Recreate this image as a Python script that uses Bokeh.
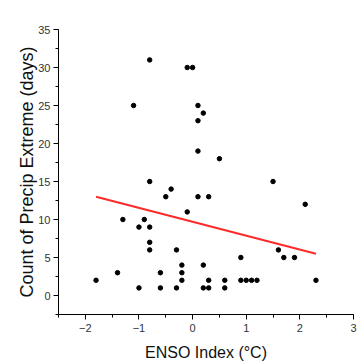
from bokeh.plotting import figure
from bokeh.models import Range1d, FixedTicker
from bokeh.embed import file_html
from bokeh.resources import INLINE

enso = [-1.8, -1.4, -1.3, -1.1, -1.0, -1.0, -0.9, -0.8, -0.8, -0.8, -0.8, -0.8,
        -0.6, -0.6, -0.5, -0.4, -0.3, -0.3, -0.2, -0.2, -0.2, -0.1, -0.1, 0.0,
        0.1, 0.1, 0.1, 0.1, 0.2, 0.2, 0.2, 0.3, 0.3, 0.3, 0.5, 0.6, 0.6, 0.9,
        0.9, 1.0, 1.1, 1.2, 1.5, 1.6, 1.7, 1.9, 2.1, 2.3]
count = [2, 3, 10, 25, 9, 1, 10, 31, 15, 9, 7, 6,
         3, 1, 13, 14, 6, 1, 4, 3, 2, 30, 11, 30,
         25, 23, 19, 13, 24, 4, 1, 13, 2, 1, 18, 2, 1, 5,
         2, 2, 2, 2, 15, 6, 5, 5, 12, 2]

fit_x = [-1.8, 2.3]
fit_y = [13.0, 5.5]

x_ticks = [-2, -1, 0, 1, 2, 3]
y_ticks = [0, 5, 10, 15, 20, 25, 30, 35]

p = figure(width=358, height=363, output_backend="svg", toolbar_location=None,
           x_range=Range1d(-2.5, 3), y_range=Range1d(-2.5, 35),
           min_border_left=58, min_border_top=29, min_border_right=5, min_border_bottom=49)

p.line(fit_x, fit_y, line_color="#ff2a2a", line_width=2)
p.scatter(enso, count, size=4.5, fill_color="black", line_color="black")

p.xgrid.visible = False
p.ygrid.visible = False
p.outline_line_color = None

p.xaxis.ticker = FixedTicker(ticks=x_ticks, minor_ticks=[v / 2 for v in range(-5, 7)])
p.yaxis.ticker = FixedTicker(ticks=y_ticks, minor_ticks=[v * 2.5 for v in range(-1, 15)])

for ax in (p.xaxis[0], p.yaxis[0]):
    ax.axis_line_color = "black"
    ax.major_tick_line_color = "black"
    ax.minor_tick_line_color = "black"
    ax.major_tick_out = 5
    ax.major_tick_in = 0
    ax.minor_tick_out = 3
    ax.minor_tick_in = 0
    ax.major_label_text_font = "Liberation Sans"
    ax.major_label_text_font_size = "11px"
    ax.major_label_text_color = "#333333"
    ax.axis_label_text_font = "Liberation Sans"
    ax.axis_label_text_font_style = "normal"
    ax.axis_label_text_color = "#111111"

p.xaxis.axis_label_text_font_size = "16px"
p.yaxis.axis_label_text_font_size = "18px"
p.xaxis.axis_label = "ENSO Index (°C)"
p.yaxis.axis_label = "Count of Precip Extreme (days)"
p.xaxis.axis_label_standoff = 9
p.yaxis.axis_label_standoff = -2
p.xaxis.major_label_standoff = 4
p.yaxis.major_label_standoff = 3

open("out.html", "w").write(file_html(p, INLINE))
